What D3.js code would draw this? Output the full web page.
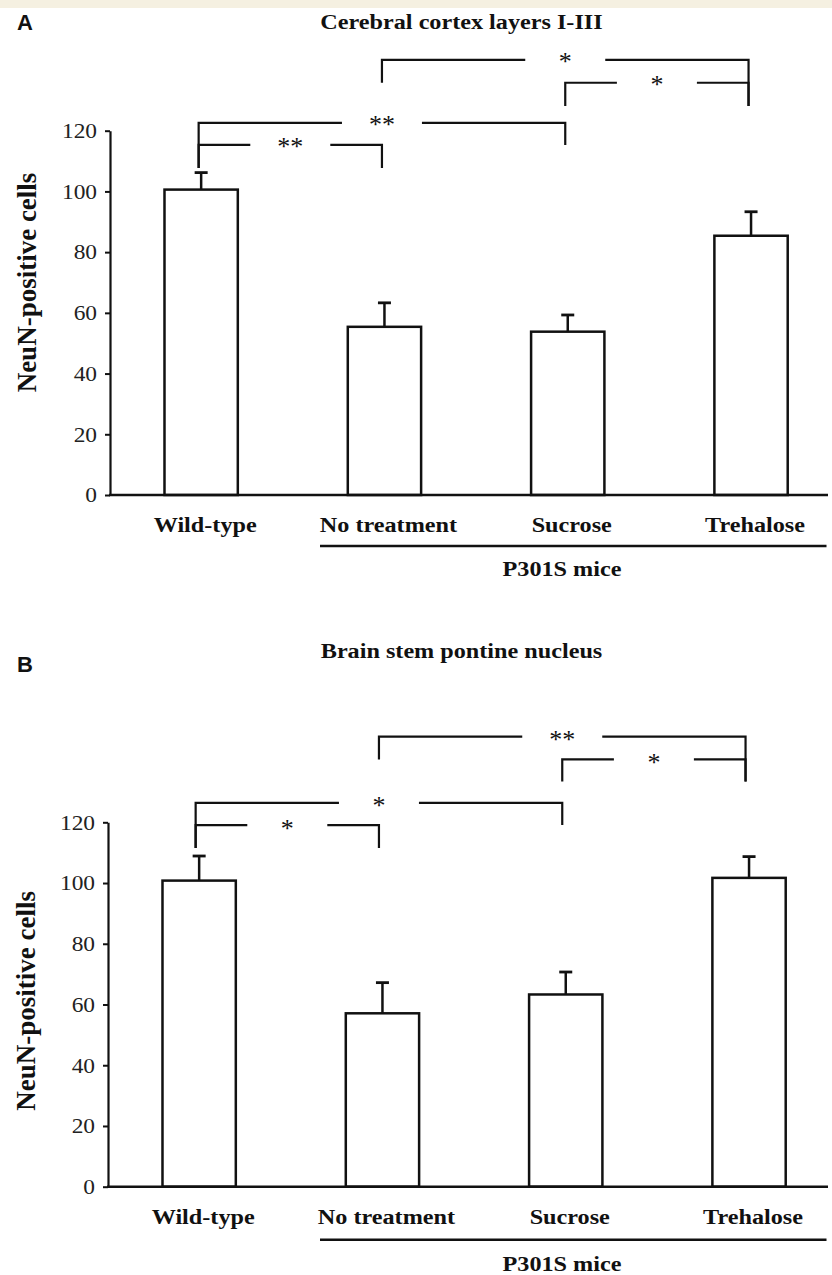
<!DOCTYPE html>
<html>
<head>
<meta charset="utf-8">
<script src="https://cdn.jsdelivr.net/npm/d3@7/dist/d3.min.js"></script>
<style>
  html, body { margin: 0; padding: 0; background: #ffffff; }
  svg { display: block; }
</style>
</head>
<body>
<script>
// ---------------- DATA ----------------
const categories = ["Wild-type", "No treatment", "Sucrose", "Trehalose"];
const groupLabel = "P301S mice";
const yLabel = "NeuN-positive cells";
const yTicks = [0, 20, 40, 60, 80, 100, 120];

const cortexTitle = "Cerebral cortex layers I-III";
const cortexMeans = [100.6, 55.4, 53.8, 85.4];
const cortexErrors = [5.6, 7.9, 5.5, 7.9];
// comparisons: indices into categories, significance label, bracket level and drop ends (data units)
const cortexComparisons = [
  { from: 1, to: 3, label: "*",  level: 143.3, leftEnd: 135.8, rightEnd: 128.1 },
  { from: 2, to: 3, label: "*",  level: 135.8, leftEnd: 128.1, rightEnd: 128.1 },
  { from: 0, to: 2, label: "**", level: 122.6, leftEnd: 107.7, rightEnd: 115.3 },
  { from: 0, to: 1, label: "**", level: 115.3, leftEnd: 107.7, rightEnd: 107.7 }
];

const pontineTitle = "Brain stem pontine nucleus";
const pontineMeans = [100.8, 57.1, 63.3, 101.7];
const pontineErrors = [8.1, 10.1, 7.4, 7.0];
const pontineComparisons = [
  { from: 1, to: 3, label: "**", level: 148.2, leftEnd: 140.7, rightEnd: 133.4 },
  { from: 2, to: 3, label: "*",  level: 140.7, leftEnd: 133.4, rightEnd: 133.4 },
  { from: 0, to: 2, label: "*",  level: 126.4, leftEnd: 111.5, rightEnd: 119.1 },
  { from: 0, to: 1, label: "*",  level: 119.1, leftEnd: 111.5, rightEnd: 111.5 }
];

// ---------------- DRAWING ----------------
const W = 832, H = 1275;
const serif = "'Liberation Serif', 'Times New Roman', Times, serif";
const sans = "'Liberation Sans', Arial, Helvetica, sans-serif";
const ink = "#111";

const svg = d3.select("body").append("svg")
  .attr("width", W).attr("height", H)
  .attr("viewBox", `0 0 ${W} ${H}`);

svg.append("rect").attr("width", W).attr("height", H).attr("fill", "#ffffff");
svg.append("rect").attr("width", W).attr("height", 8).attr("fill", "#f5f0e1");

function stretchedText(g, x, y, txt, opts) {
  const sx = opts.sx || 1.1;
  return g.append("text")
    .attr("transform", `translate(${x},${y}) scale(${sx},1)`)
    .attr("text-anchor", opts.anchor || "middle")
    .attr("font-family", opts.family || serif)
    .attr("font-weight", opts.weight || "bold")
    .attr("font-size", opts.size)
    .attr("fill", ink)
    .text(txt);
}

function drawPanel(cfg) {
  const g = svg.append("g");

  const x = d3.scaleBand()
    .domain(categories)
    .range([cfg.axisX - 0.5, cfg.axisX - 0.5 + 733.2])
    .paddingInner(0.6)
    .paddingOuter(0.3);
  const y = d3.scaleLinear().domain([0, 120]).range([cfg.zeroY, cfg.topY]);
  const cx = c => x(c) + x.bandwidth() / 2;

  // panel letter
  g.append("text")
    .attr("x", 17).attr("y", cfg.letterY)
    .attr("font-family", sans).attr("font-weight", "bold")
    .attr("font-size", 22).attr("fill", ink)
    .text(cfg.letter);

  // title
  stretchedText(g, 461.5, cfg.titleY, cfg.title, { size: 22 });

  // y axis
  const yAxis = g.append("g")
    .attr("transform", `translate(${cfg.axisX},0)`)
    .call(d3.axisLeft(y).tickValues(yTicks).tickSize(5).tickSizeOuter(0).tickPadding(8));
  yAxis.select(".domain").attr("stroke", ink).attr("stroke-width", 2.2);
  yAxis.selectAll(".tick line").attr("stroke", ink).attr("stroke-width", 2);
  yAxis.selectAll(".tick text")
    .attr("font-family", serif).attr("font-size", 20).attr("fill", "#222")
    .attr("x", -13 / 1.17)
    .attr("transform", "scale(1.17,1)")
    .attr("dy", "0.34em");

  // y label
  g.append("text")
    .attr("transform", `translate(${cfg.yLabelX},${cfg.yLabelY}) rotate(-90)`)
    .attr("text-anchor", "middle")
    .attr("font-family", serif).attr("font-weight", "bold")
    .attr("font-size", 27).attr("fill", ink)
    .text(yLabel);

  // bars
  g.selectAll("rect.bar")
    .data(cfg.means)
    .join("rect")
    .attr("class", "bar")
    .attr("x", (d, i) => x(categories[i]))
    .attr("y", d => y(d))
    .attr("width", x.bandwidth())
    .attr("height", d => y(0) - y(d))
    .attr("fill", "#ffffff")
    .attr("stroke", ink)
    .attr("stroke-width", 2.5);

  // error bars
  const eb = g.selectAll("g.err")
    .data(cfg.means.map((m, i) => ({ m, e: cfg.errors[i], c: categories[i] })))
    .join("g").attr("class", "err");
  eb.append("line")
    .attr("x1", d => cx(d.c)).attr("x2", d => cx(d.c))
    .attr("y1", d => y(d.m)).attr("y2", d => y(d.m + d.e))
    .attr("stroke", ink).attr("stroke-width", 2.5);
  eb.append("line")
    .attr("x1", d => cx(d.c) - 6.5).attr("x2", d => cx(d.c) + 6.5)
    .attr("y1", d => y(d.m + d.e)).attr("y2", d => y(d.m + d.e))
    .attr("stroke", ink).attr("stroke-width", 2.8);

  // x axis baseline
  g.append("line")
    .attr("x1", cfg.axisX - 1).attr("x2", 828)
    .attr("y1", y(0)).attr("y2", y(0))
    .attr("stroke", ink).attr("stroke-width", 2.5);

  // category labels through the band axis
  const xAxis = g.append("g")
    .attr("transform", `translate(0,${y(0)})`)
    .call(d3.axisBottom(x).tickSize(0).tickPadding(0));
  xAxis.select(".domain").remove();
  xAxis.selectAll(".tick").each(function () {
    const t = d3.select(this);
    const tr = t.attr("transform");
    const m = /translate\(([-\d.]+)/.exec(tr);
    const tx = m ? +m[1] : 0;
    t.attr("transform", `translate(${tx + 4},0)`);
  });
  xAxis.selectAll(".tick text")
    .attr("font-family", serif).attr("font-weight", "bold")
    .attr("font-size", 22).attr("fill", ink)
    .attr("y", 0).attr("dy", 0)
    .attr("transform", "translate(0,37) scale(1.1,1)");

  // group line and label
  g.append("line")
    .attr("x1", 320).attr("x2", 826.5)
    .attr("y1", y(0) + cfg.groupLineDy).attr("y2", y(0) + cfg.groupLineDy)
    .attr("stroke", ink).attr("stroke-width", 2.5);
  stretchedText(g, 562, y(0) + cfg.groupTextDy, groupLabel, { size: 22 });

  // significance brackets
  const gap = 40;
  cfg.comparisons.forEach(b => {
    const xl = cx(categories[b.from]) - cfg.bracketShift;
    const xr = cx(categories[b.to]) - cfg.bracketShift;
    const mid = (xl + xr) / 2;
    const yl = y(b.level);
    g.append("path")
      .attr("d", `M${xl},${y(b.leftEnd)}V${yl}H${mid - gap}M${mid + gap},${yl}H${xr}V${y(b.rightEnd)}`)
      .attr("fill", "none").attr("stroke", ink).attr("stroke-width", 2.2);
    stretchedText(g, mid, yl + cfg.starDy, b.label, { size: 26, weight: "normal", sx: 1.0 });
  });
}

drawPanel({
  letter: "A", letterY: 30, title: cortexTitle, titleY: 29,
  axisX: 110, zeroY: 495, topY: 130.7,
  means: cortexMeans, errors: cortexErrors, comparisons: cortexComparisons,
  yLabelX: 36, yLabelY: 282.5, groupLineDy: 51, groupTextDy: 81, bracketShift: 2.5, starDy: 10
});

drawPanel({
  letter: "B", letterY: 672, title: pontineTitle, titleY: 658,
  axisX: 108, zeroY: 1186.7, topY: 822.3,
  means: pontineMeans, errors: pontineErrors, comparisons: pontineComparisons,
  yLabelX: 35, yLabelY: 1000.8, groupLineDy: 53, groupTextDy: 84.5, bracketShift: 3.5, starDy: 11.5
});
</script>
</body>
</html>
